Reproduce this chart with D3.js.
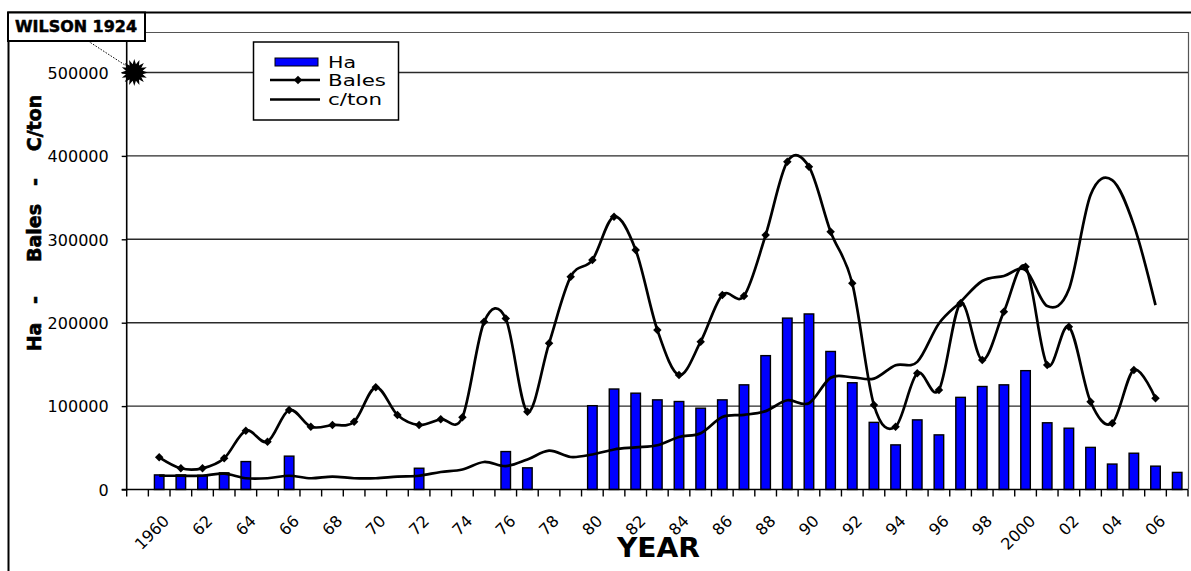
<!DOCTYPE html>
<html><head><meta charset="utf-8">
<script src="https://cdn.jsdelivr.net/npm/d3@7"></script>
<style>body{margin:0;background:#fff}svg{display:block}</style>
</head><body><svg id="c" width="1191" height="571"></svg>
<script>
// ---------- DATA ----------
const categories = d3.range(1959, 2008);            // first slot carries the Wilson 1924 point
const tickYears  = d3.range(1960, 2007, 2);
const tickLabels = ["1960","62","64","66","68","70","72","74","76","78","80","82","84","86","88","90","92","94","96","98","2000","02","04","06"];

const haYears  = [1960,1961,1962,1963,1964,1966,1972,1976,1977,1980,1981,1982,1983,1984,1985,1986,1987,1988,1989,1990,1991,1992,1993,1994,1995,1996,1997,1998,1999,2000,2001,2002,2003,2004,2005,2006,2007];
const haValues = [17500,17500,17000,20000,33500,40000,25500,45500,26000,100500,120500,115500,107500,105500,97500,107500,125500,160500,205500,210500,165500,128000,80500,53500,83500,65500,110500,123500,125500,142500,80000,73500,50500,30500,43500,28000,20500];

const lineYears   = d3.range(1960, 2007);
const balesValues = [38600,25400,25400,37400,70500,57300,95300,75300,77300,81300,122500,89300,77300,84200,86600,201000,205000,93300,175300,255100,275200,327100,287200,191200,137300,177200,233200,232000,305100,393000,387000,309100,247200,101300,75300,139300,119300,223300,155300,213200,267100,149300,195200,105300,79400,143300,109300];
const ctonValues  = [16500,16500,16500,19000,13500,13500,16500,13500,15500,13500,13500,15500,16500,21000,24000,33000,28000,36000,46500,39000,42000,48000,50500,53000,63000,67500,87000,89500,94000,107000,103500,134000,134500,133000,149000,153000,199000,225000,250000,256000,263000,220000,240000,353000,371000,317000,221000];

const wilsonLabel = "WILSON 1924";
const wilsonYear  = 1959;
const wilsonValue = 500000;

const yTicks = [0,100000,200000,300000,400000,500000];
const legendNames = ["Ha","Bales","c/ton"];

// ---------- CHART ----------
const svg = d3.select("#c");
const x = d3.scaleBand().domain(categories).range([126.7, 1188]).padding(0);
const y = d3.scaleLinear().domain([0, 500000]).range([489.5, 72.5]);
const bw = x.bandwidth();
const cx = yr => x(yr) + bw / 2;

// outer chart border
svg.append("rect").attr("x",8.5).attr("y",12.5).attr("width",1250).attr("height",650)
  .attr("fill","none").attr("stroke","#000").attr("stroke-width",2);
// plot area top/right border
svg.append("path").attr("d",`M126.7,32.5H1188.5V489.5`).attr("fill","none")
  .attr("stroke","#555").attr("stroke-width",1.2);

// gridlines
svg.append("g").selectAll("line").data(yTicks.filter(d=>d>0)).join("line")
  .attr("x1",126.7).attr("x2",1188).attr("y1",d=>y(d)).attr("y2",d=>y(d))
  .attr("stroke","#2a2a2a").attr("stroke-width",1.4);

// bars
const barW = bw*0.44;
svg.append("g").selectAll("rect").data(haYears.map((yr,i)=>({yr, v:haValues[i]}))).join("rect")
  .attr("x",d=>cx(d.yr)-barW/2).attr("width",barW)
  .attr("y",d=>y(d.v)).attr("height",d=>y(0)-y(d.v))
  .attr("fill","#0000ff").attr("stroke","#000").attr("stroke-width",1.4);

// lines
const line = d3.line().x(d=>cx(d.yr)).y(d=>y(d.v)).curve(d3.curveCatmullRom.alpha(0));
const ctonData  = lineYears.map((yr,i)=>({yr, v:ctonValues[i]}));
const balesData = lineYears.map((yr,i)=>({yr, v:balesValues[i]}));
svg.append("path").datum(ctonData).attr("d",line).attr("fill","none")
  .attr("stroke","#000").attr("stroke-width",2.7);
svg.append("path").datum(balesData).attr("d",line).attr("fill","none")
  .attr("stroke","#000").attr("stroke-width",2.7);
const diamond = d3.symbol().type(d3.symbolSquare).size(36);
svg.append("g").selectAll("path").data(balesData).join("path")
  .attr("d",diamond).attr("transform",d=>`translate(${cx(d.yr)},${y(d.v)}) rotate(45)`)
  .attr("fill","#000");

// axes
const yAxis = d3.axisLeft(y).tickValues(yTicks).tickSize(5).tickPadding(13).tickFormat(d3.format("d"));
const gy = svg.append("g").attr("transform","translate(126.7,0)").call(yAxis);
gy.select(".domain").attr("d",`M-5,${y(0)}H0V32`).attr("stroke","#000").attr("stroke-width",1.6);
gy.selectAll(".tick line").attr("stroke","#000").attr("stroke-width",1.4);
gy.selectAll(".tick text").attr("font-family","DejaVu Sans").attr("font-size",16).attr("fill","#000").attr("dy","0.36em");

// x axis line + ticks at band boundaries
const bounds = categories.map(c=>x(c)).concat([x.range()[1]]);
const gx = svg.append("g");
gx.append("line").attr("x1",126.7).attr("x2",1188).attr("y1",y(0)).attr("y2",y(0))
  .attr("stroke","#000").attr("stroke-width",1.6);
gx.selectAll("line.t").data(bounds).join("line").attr("class","t")
  .attr("x1",d=>d).attr("x2",d=>d).attr("y1",y(0)).attr("y2",y(0)+7)
  .attr("stroke","#000").attr("stroke-width",1.4);
gx.selectAll("text").data(tickYears.map((yr,i)=>({yr, t:tickLabels[i]}))).join("text")
  .attr("transform",d=>`translate(${cx(d.yr)+11},522) rotate(-45)`)
  .attr("text-anchor","end").attr("font-family","DejaVu Sans").attr("font-size",16)
  .attr("fill","#000").text(d=>d.t);

// axis titles
svg.append("text").attr("x",617).attr("y",557).attr("font-family","DejaVu Sans")
  .attr("font-weight","bold").attr("font-size",26).attr("textLength",83)
  .attr("lengthAdjust","spacingAndGlyphs").text("YEAR");
const yTitle = [{t:"Ha",c:337},{t:"-",c:300},{t:"Bales",c:233},{t:"-",c:182},{t:"C/ton",c:123}];
svg.append("g").selectAll("text").data(yTitle).join("text")
  .attr("transform",d=>`translate(41,${d.c}) rotate(-90)`).attr("text-anchor","middle")
  .attr("font-family","DejaVu Sans").attr("font-weight","bold").attr("font-size",19)
  .attr("stroke","#000").attr("stroke-width",0.6).text(d=>d.t);

// Wilson 1924 point
const starPts = d3.range(32).map(i=>{const a=i*Math.PI/16, r=i%2?8.5:13.5; return [r*Math.sin(a), -r*Math.cos(a)];});
svg.append("line").attr("x1",88).attr("y1",41).attr("x2",128).attr("y2",67)
  .attr("stroke","#000").attr("stroke-width",1).attr("stroke-dasharray","1.5,1.5");
svg.append("path").attr("d","M"+starPts.join("L")+"Z")
  .attr("transform",`translate(${x(wilsonYear)+bw*0.35},${y(wilsonValue)})`).attr("fill","#000");
svg.append("rect").attr("x",8).attr("y",12.5).attr("width",137).attr("height",28.5)
  .attr("fill","#fff").attr("stroke","#000").attr("stroke-width",2);
svg.append("text").attr("x",15).attr("y",32).attr("font-family","DejaVu Sans").attr("font-weight","bold")
  .attr("font-size",16).attr("textLength",122).attr("lengthAdjust","spacingAndGlyphs")
  .attr("stroke","#000").attr("stroke-width",0.5).text(wilsonLabel);

// legend
const lg = svg.append("g");
lg.append("rect").attr("x",253.5).attr("y",42).attr("width",145).attr("height",78)
  .attr("fill","#fff").attr("stroke","#000").attr("stroke-width",1.5);
lg.append("rect").attr("x",275).attr("y",58).attr("width",43).attr("height",8)
  .attr("fill","#0000ff").attr("stroke","#000").attr("stroke-width",1);
lg.append("line").attr("x1",270).attr("x2",320).attr("y1",80).attr("y2",80).attr("stroke","#000").attr("stroke-width",2.4);
lg.append("path").attr("d",diamond).attr("transform","translate(298,80) rotate(45)").attr("fill","#000");
lg.append("line").attr("x1",270).attr("x2",320).attr("y1",99.5).attr("y2",99.5).attr("stroke","#000").attr("stroke-width",2.4);
const lgY = [68, 86, 105], lgLen = [28, 58, 54];
lg.selectAll("text").data(legendNames).join("text")
  .attr("x",328).attr("y",(d,i)=>lgY[i]).attr("font-family","DejaVu Sans").attr("font-size",16)
  .attr("textLength",(d,i)=>lgLen[i]).attr("lengthAdjust","spacingAndGlyphs").text(d=>d);
</script></body></html>
